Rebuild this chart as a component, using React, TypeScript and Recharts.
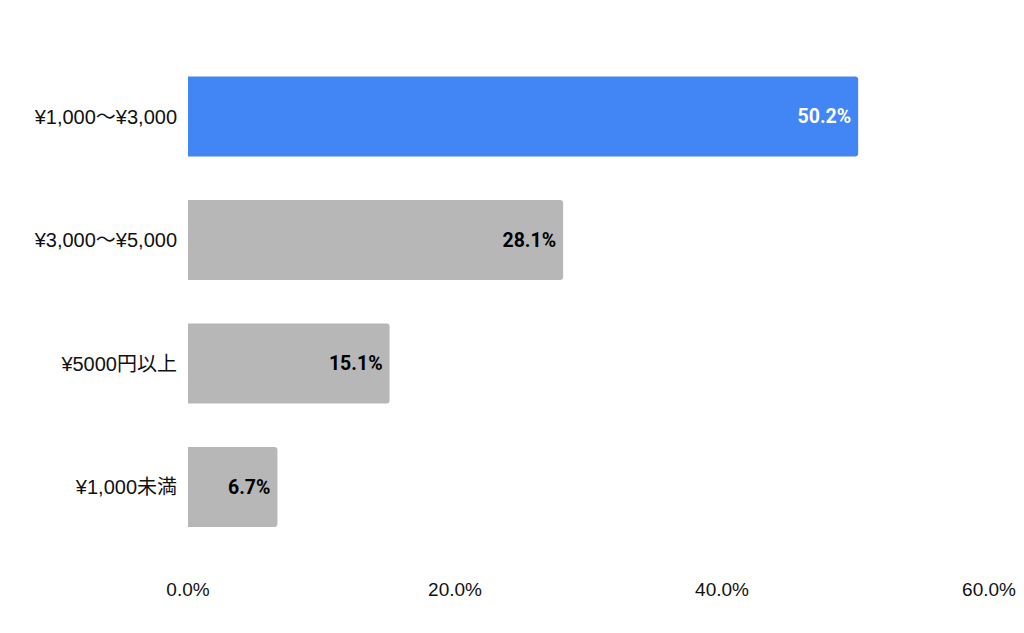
import { BarChart, Bar, XAxis, YAxis, Cell, LabelList } from 'recharts'

const categories = ['¥1,000〜¥3,000', '¥3,000〜¥5,000', '¥5000円以上', '¥1,000未満']
const shares = [50.2, 28.1, 15.1, 6.7]
const xTicks = [0, 20, 40, 60]

const data = categories.map((name, i) => ({ name, share: shares[i] }))

const BarLabel = ({ x, y, width, height, value, index }: any) => (
  <text
    x={x + width - 7}
    y={y + height / 2}
    textAnchor="end"
    dominantBaseline="central"
    fill={index === 0 ? '#ffffff' : '#000000'}
    fontFamily="Roboto, 'Noto Sans', sans-serif"
    fontWeight={700}
    fontSize={19.5}
  >
    {value.toFixed(1)}%
  </text>
)

export default function App() {
  return (
    <div style={{ position: 'absolute', left: 0, top: 0, background: '#fff' }}>
      <BarChart
        width={1024}
        height={633}
        data={data}
        layout="vertical"
        margin={{ top: 55, right: 35, bottom: 24, left: 8 }}
        barCategoryGap="17.5%"
      >
        <XAxis
          type="number"
          domain={[0, 60]}
          ticks={xTicks}
          axisLine={false}
          tickLine={false}
          tickMargin={28}
          height={60}
          interval={0}
          tickFormatter={(v: number) => `${v.toFixed(1)}%`}
          tick={{ fill: '#111', fontSize: 19, fontFamily: "'Liberation Sans', Arial, sans-serif" }}
        />
        <YAxis
          type="category"
          dataKey="name"
          width={180}
          axisLine={false}
          tickLine={false}
          tickMargin={5}
          tick={{ fill: '#111', fontSize: 20, fontFamily: "'Liberation Sans', 'Noto Sans CJK JP', sans-serif" }}
        />
        <Bar dataKey="share" radius={[0, 3, 3, 0]} isAnimationActive={false}>
          {data.map((d, i) => (
            <Cell key={d.name} fill={i === 0 ? '#4285f4' : '#b7b7b7'} />
          ))}
          <LabelList dataKey="share" content={<BarLabel />} />
        </Bar>
      </BarChart>
    </div>
  )
}
